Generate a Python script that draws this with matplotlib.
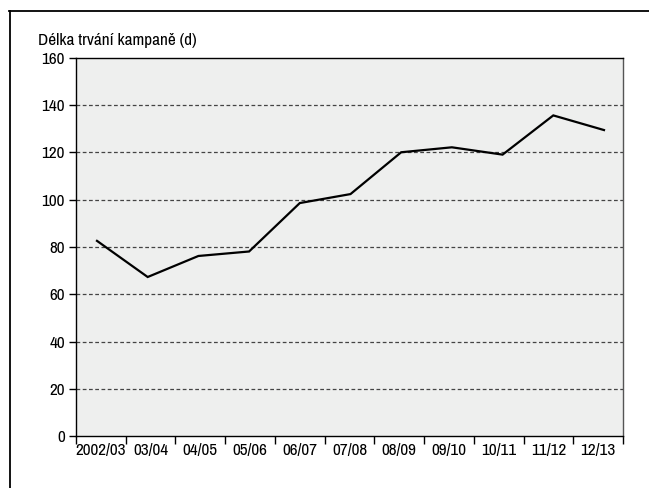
import matplotlib
matplotlib.use("Agg")
import matplotlib.pyplot as plt
from matplotlib.lines import Line2D
from matplotlib import font_manager
import numpy as np

names = sorted({f.name for f in font_manager.fontManager.ttflist})
narrow = [n for n in names if ("Narrow" in n or "Condensed" in n)]
condensed_stretch = [f.name for f in font_manager.fontManager.ttflist
                     if str(f.stretch) in ("condensed", "semi-condensed", "extra-condensed")
                     or (isinstance(f.stretch, int) and f.stretch < 500)]
if narrow:
    fam = narrow[0]
    stretch = "normal"
    fs = 12.4
elif condensed_stretch:
    fam = condensed_stretch[0]
    stretch = "condensed"
    fs = 12.4
else:
    fam = "Liberation Sans"
    stretch = "normal"
    fs = 10.5
plt.rcParams['font.family'] = [fam, 'Liberation Sans', 'DejaVu Sans']
plt.rcParams['font.stretch'] = stretch

categories = ["2002/03", "03/04", "04/05", "05/06", "06/07", "07/08",
              "08/09", "09/10", "10/11", "11/12", "12/13"]
values = [82.6, 67.3, 76.2, 78.1, 98.6, 102.4, 120.1, 122.2, 119.1, 135.7, 129.5]
y_ticks = [0, 20, 40, 60, 80, 100, 120, 140, 160]
y_label = "Délka trvání kampaně (d)"

W, H = 649, 488
fig = plt.figure(figsize=(W / 100, H / 100), dpi=100)
ax = fig.add_axes([76 / W, 1 - 436 / H, (623 - 76) / W, (436 - 58) / H])
ax.set_facecolor("#eeefee")

x = np.arange(len(categories))
ax.plot(x, values, color="black", lw=1.6, solid_joinstyle="miter")

x0, x1 = -0.414, 10.375
ax.set_xlim(x0, x1)
ax.set_ylim(0, 160)

bounds = np.linspace(x0, x1, len(categories) + 1)
mids = (bounds[:-1] + bounds[1:]) / 2
ax.set_xticks(bounds)
ax.set_xticklabels([])
ax.set_xticks(mids, minor=True)
ax.set_xticklabels(categories, minor=True)
ax.tick_params(axis="x", which="major", direction="out", length=6, width=1, color="black")
ax.tick_params(axis="x", which="minor", length=0, pad=5, labelsize=fs)

ax.set_yticks(y_ticks)
ax.tick_params(axis="y", direction="out", length=5, width=1, pad=3, labelsize=fs)

for v in y_ticks[1:-1]:
    ax.axhline(v, color="#444444", lw=0.9, ls=(0, (3, 2)), zorder=1)

for s in ["left", "bottom", "top"]:
    ax.spines[s].set_color("black")
    ax.spines[s].set_linewidth(1.0)
ax.spines["right"].set_color("#555555")
ax.spines["right"].set_linewidth(1.0)

fig.text(38 / W, 1 - 40 / H, y_label, fontsize=fs, va="center", ha="left")

# outer frame
fig.add_artist(Line2D([9.5 / W, 9.5 / W], [0, 1 - 10.5 / H], transform=fig.transFigure,
                      color="black", lw=1.3))
fig.add_artist(Line2D([9 / W, 1], [1 - 10.5 / H, 1 - 10.5 / H], transform=fig.transFigure,
                      color="black", lw=1.3))

fig.savefig("out.png", dpi=100)
